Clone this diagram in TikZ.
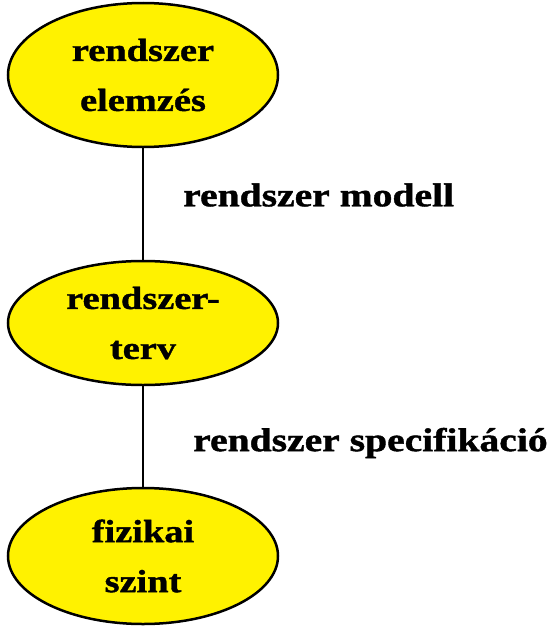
\documentclass[tikz,border=0pt]{standalone}
\usepackage{fontspec}
\setmainfont{Liberation Serif}[FakeStretch=1.2,BoldFeatures={FakeBold=1.2}]
\usetikzlibrary{shapes.geometric}

\tikzset{
  lepes/.style={ellipse,draw=black,line width=2.5pt,fill=yellow,inner sep=0pt,
    minimum width=270pt,align=center,font=\fontsize{32}{50}\selectfont\bfseries},
  felirat/.style={anchor=west,inner sep=0pt,font=\fontsize{33}{40}\selectfont\bfseries}
}

\begin{document}
\begin{tikzpicture}[x=1pt,y=-1pt]
\useasboundingbox (0,0) rectangle (551,629);

\node[lepes,minimum height=144pt] (elemzes) at (143,75) {rendszer\\elemzés};
\node[lepes,minimum height=124pt] (terv) at (143,323) {rendszer-\\terv};
\node[lepes,minimum height=136pt] (fizikai) at (143,556) {fizikai\\szint};

\draw[line width=2.5pt] (elemzes) -- (terv);
\draw[line width=2.5pt] (terv) -- (fizikai);

\node[felirat] (modell) at (183,195) {rendszer modell};
\node[felirat] (spec) at (193,443) {rendszer specifikáció};
\end{tikzpicture}
\end{document}
